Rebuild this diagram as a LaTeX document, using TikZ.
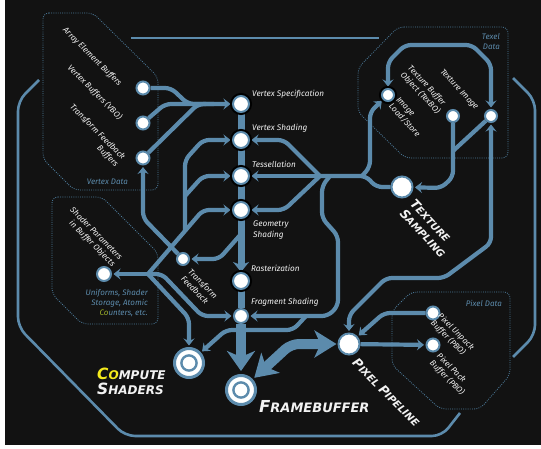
\documentclass[tikz,border=0pt]{standalone}
\usepackage{fontspec}
\setmainfont{Fira Sans}
\newfontfamily\headfont{DejaVu Sans}
\usetikzlibrary{arrows.meta}
\definecolor{bgdark}{HTML}{121212}
\definecolor{metro}{HTML}{5C8BAC}
\definecolor{boxline}{HTML}{4D7C9C}
\definecolor{ink}{HTML}{F2F2F2}
\definecolor{coyellow}{HTML}{F4EA1C}
\definecolor{cogreen}{HTML}{9CB02A}
\pgfdeclarelayer{backdrop}
\pgfdeclarelayer{tracks}
\pgfsetlayers{backdrop,tracks,main}
\newcommand\capsz[2]{{\fontsize{#1}{#1}\selectfont #2}}
\begin{document}
\begin{tikzpicture}[x=1pt,y=-1pt,
  station/.style={circle, fill=white, draw=metro, line width=2pt, inner sep=0pt, minimum size=#1},
  station/.default=13pt,
  stage/.style={station=#1, preaction={draw=black, line width=6pt}},
  stage/.default=16pt,
  hub/.style={circle, fill=white, draw=metro, line width=3pt, inner sep=0pt, minimum size=29pt,
    path picture={\draw[metro, line width=2.4pt] (path picture bounding box.center) circle[radius=7.6pt];}},
  conn/.style={draw=metro, line width=4.2pt, rounded corners=6pt},
  arr/.style={-{Stealth[length=7pt,width=11pt,inset=2.5pt]}, shorten >=1.5pt},
  arrb/.style={{Stealth[length=7pt,width=11pt,inset=2.5pt]}-{Stealth[length=7pt,width=11pt,inset=2.5pt]}, shorten >=1.5pt, shorten <=1.5pt},
  spine/.style={draw=metro, line width=7pt},
  trunk/.style={draw=metro, line width=10pt, rounded corners=8pt},
  outline/.style={draw=metro, line width=2.6pt, rounded corners=10pt},
  databox/.style={draw=boxline, line width=0.8pt, dash pattern=on 0.9pt off 1.3pt, rounded corners=6pt},
  lbl/.style={text=ink, font=\fontsize{8.2}{10}\selectfont\itshape, inner sep=0pt},
  note/.style={text=metro, font=\fontsize{8}{10}\selectfont\itshape, inner sep=0pt},
  head/.style={text=ink, font=\headfont\bfseries\itshape, inner sep=0pt},
]
% ---------- background ----------
\begin{pgfonlayer}{backdrop}
\fill[white] (0,0) rectangle (541,449);
\fill[bgdark] (5,0) rectangle (541,445);
\end{pgfonlayer}

% ---------- stations ----------
\node[stage] (vspec) at (241,104) {};
\node[stage] (vshade) at (241,140) {};
\node[stage] (tess) at (241,176) {};
\node[stage] (geom) at (241,210) {};
\node[stage] (rast) at (241,281) {};
\node[station=14pt] (frag) at (241,316) {};
\node[hub] (fb) at (241,390) {};
\node[hub] (cs) at (189,363) {};
\node[station=21pt] (pp) at (349,344) {};
\node[station=21pt] (ts) at (402,187) {};
\node[stage=12pt] (ils) at (388,95) {};
\node[station=12pt] (texbo) at (453,116) {};
\node[station=12pt] (teximg) at (491,116) {};
\node[station] (aeb) at (143,88) {};
\node[station] (vbo) at (143,123) {};
\node[station] (tfb) at (143,158) {};
\node[station=14pt] (sp) at (104,274) {};
\node[station=12pt] (tf) at (183,259) {};
\node[station] (pub) at (433,313) {};
\node[station] (ppb) at (433,345) {};

% ---------- stage labels ----------
\node[lbl, anchor=base west] (t-vspec) at (252,97) {Vertex Specification};
\node[lbl, anchor=base west] (t-vshade) at (252,131) {Vertex Shading};
\node[lbl, anchor=base west] (t-tess) at (252,168) {Tessellation};
\node[lbl, anchor=north west, align=left, font=\fontsize{8.2}{11}\selectfont\itshape] (t-geom) at (253,221) {Geometry\\Shading};
\node[lbl, anchor=base west] (t-rast) at (251,272) {Rasterization};
\node[lbl, anchor=base west] (t-frag) at (251,305) {Fragment Shading};

% ---------- rotated labels ----------
\node[lbl, rotate=-45, anchor=north west] (t-aeb) at (67,26) {Array Element Buffers};
\node[lbl, rotate=-45, anchor=north west] (t-vbo) at (72,63) {Vertex Buffers (VBO)};
\node[lbl, rotate=-45, anchor=north west, align=right] (t-tfb) at (74,103) {Transform Feedback\\Buffers};
\node[lbl, rotate=-45, anchor=north west, align=right] (t-sp) at (74,206) {Shader Parameters\\in Buffer Objects};
\node[lbl, rotate=-45, anchor=north west, align=left] (t-tf) at (192,268) {Transform\\Feedback};
\node[lbl, rotate=-47, anchor=north west, align=left] (t-ils) at (400,96) {Image\\Load/Store};
\node[lbl, rotate=-47, anchor=north west, align=left] (t-texbo) at (412,64) {Texture Buffer\\Object (TexBO)};
\node[lbl, rotate=-47, anchor=north west] (t-teximg) at (444,68) {Texture Image};
\node[lbl, rotate=-45, anchor=north west, align=left] (t-pub) at (442,312) {Pixel Unpack\\Buffer (PBO)};
\node[lbl, rotate=-45, anchor=north west, align=left] (t-ppb) at (441,352) {Pixel Pack\\Buffer (PBO)};

% ---------- group notes ----------
\node[note, anchor=base east] (n-vd) at (128,185) {Vertex Data};
\node[note, anchor=north east, align=right] (n-td) at (500,33) {Texel\\Data};
\node[note, anchor=base east] (n-pd) at (502,306) {Pixel Data};
\node[note, anchor=north east, align=right] (n-sp) at (148,289) {Uniforms, Shader\\Storage, Atomic\\{\color{cogreen}Co}unters, etc.};

% ---------- headings ----------
\node[head, anchor=base west] (h-fb) at (259,412) {\capsz{16.5}{F}\capsz{13}{RAMEBUFFER}};
\node[head, anchor=north west, align=left, font=\headfont\bfseries\itshape\fontsize{12}{15}\selectfont] (h-cs) at (97,368)
  {{\color{coyellow}\capsz{15.5}{C}\capsz{12}{O}}\capsz{12}{MPUTE}\\\capsz{15.5}{S}\capsz{12}{HADERS}};
\node[head, rotate=-45, anchor=north west] (h-pp) at (358,357) {\capsz{12.5}{P}\capsz{10}{IXEL }\capsz{12.5}{P}\capsz{10}{IPELINE}};
\node[head, rotate=-47, anchor=north west, align=left, font=\headfont\bfseries\itshape\fontsize{10}{14}\selectfont] (h-ts) at (416,198)
  {\capsz{12.5}{T}\capsz{10}{EXTURE}\\\capsz{12.5}{S}\capsz{10}{AMPLING}};

% ---------- tracks ----------
\begin{pgfonlayer}{tracks}
% outer frame
\draw[outline] (131,38) -- (379,38);
\draw[outline] (39,80) -- (18,101) -- (18,327) -- (125,436) -- (442,436) -- (460,413);
\draw[outline] (513,78) -- (535,100) -- (535,335) -- (513,357);
% data groups
\draw[databox] (43,13) -- (93,13) -- (158,77) -- (158,190) -- (74,190) -- (43,159) -- cycle;
\draw[databox] (52,197) -- (102,197) -- (158,253) -- (158,324) -- (82,324) -- (52,294) -- cycle;
\draw[databox] (398,27) -- (508,27) -- (508,158) -- (405,158) -- (358,112) -- (358,68) -- cycle;
\draw[databox] (411,292) -- (510,292) -- (510,375) -- (480,409) -- (440,409) -- (392,365) -- (392,311) -- cycle;
% main pipeline
\draw[spine] (vspec) -- (geom);
\draw[spine, -{Stealth[length=10pt,width=16pt,inset=3pt]}] (geom) -- (rast);
\draw[spine] (rast) -- (frag);
\draw[trunk, -{Stealth[length=20pt,width=28pt,inset=6pt]}, shorten >=3pt] (frag) -- (fb);
\draw[trunk, {Stealth[length=22pt,width=27pt,inset=6pt]}-{Stealth[length=22pt,width=27pt,inset=6pt]}, shorten <=2pt, shorten >=1pt] (fb) -- (291,344) -- (pp);
% vertex data
\draw[conn] (aeb) -- (171,88) -- (188,104) -- (206,104);
\draw[conn, arr] (vbo) -- (165,104) -- (vspec);
\draw[conn] (tfb) -- (198,104) -- (214,104);
% transform feedback
\draw[conn, arr] (241,234) -- (219,259) -- (tf);
\draw[conn, arr] (tf) -- (143,218) -- (tfb);
% shader parameters
\coordinate (spj) at (148,274);
\draw[conn, arr] (spj) -- (sp);
\draw[conn, arr] (spj) -- (203,210) -- (geom);
\draw[conn, arr] (185,231) -- (185,160) -- (203,140) -- (vshade);
\draw[conn, arr] (185,196) -- (203,176) -- (tess);
\draw[conn, arr] (spj) -- (162,274) -- (202,316) -- (frag);
\draw[conn, arr] (spj) -- (189,318) -- (cs);
% texture sampling
\coordinate (tj) at (320,176);
\draw[conn] (ts) -- (376,187) -- (366,176) -- (tj);
\draw[conn, arr] (362,176) -- (370,167) -- (370,112) -- (ils);
\draw[conn, arr] (tj) -- (284,140) -- (vshade);
\draw[conn, arr] (tj) -- (tess);
\draw[conn, arr] (tj) -- (284,210) -- (geom);
\draw[conn, arr] (330,176) -- (322,186) -- (322,218) -- (338,236) -- (338,306) -- (328,316) -- (frag);
\draw[conn, arr] (306,316) -- (293,330) -- (226,330) -- (cs);
% texel data
\draw[conn, arr] (texbo) -- (453,177) -- (441,188) -- (ts);
\draw[conn] (teximg) -- (453,151);
\draw[conn, arrb] (ils) -- (388,62) -- (405,45) -- (472,45) -- (491,64) -- (teximg);
\draw[conn, arrb] (pp) -- (349,315) -- (386,278) -- (444,278) -- (491,243) -- (teximg);
% pixel data
\draw[conn, arr] (pub) -- (384,313) -- (pp);
\draw[conn, arr] (pp) -- (ppb);
\end{pgfonlayer}
\end{tikzpicture}
\end{document}
